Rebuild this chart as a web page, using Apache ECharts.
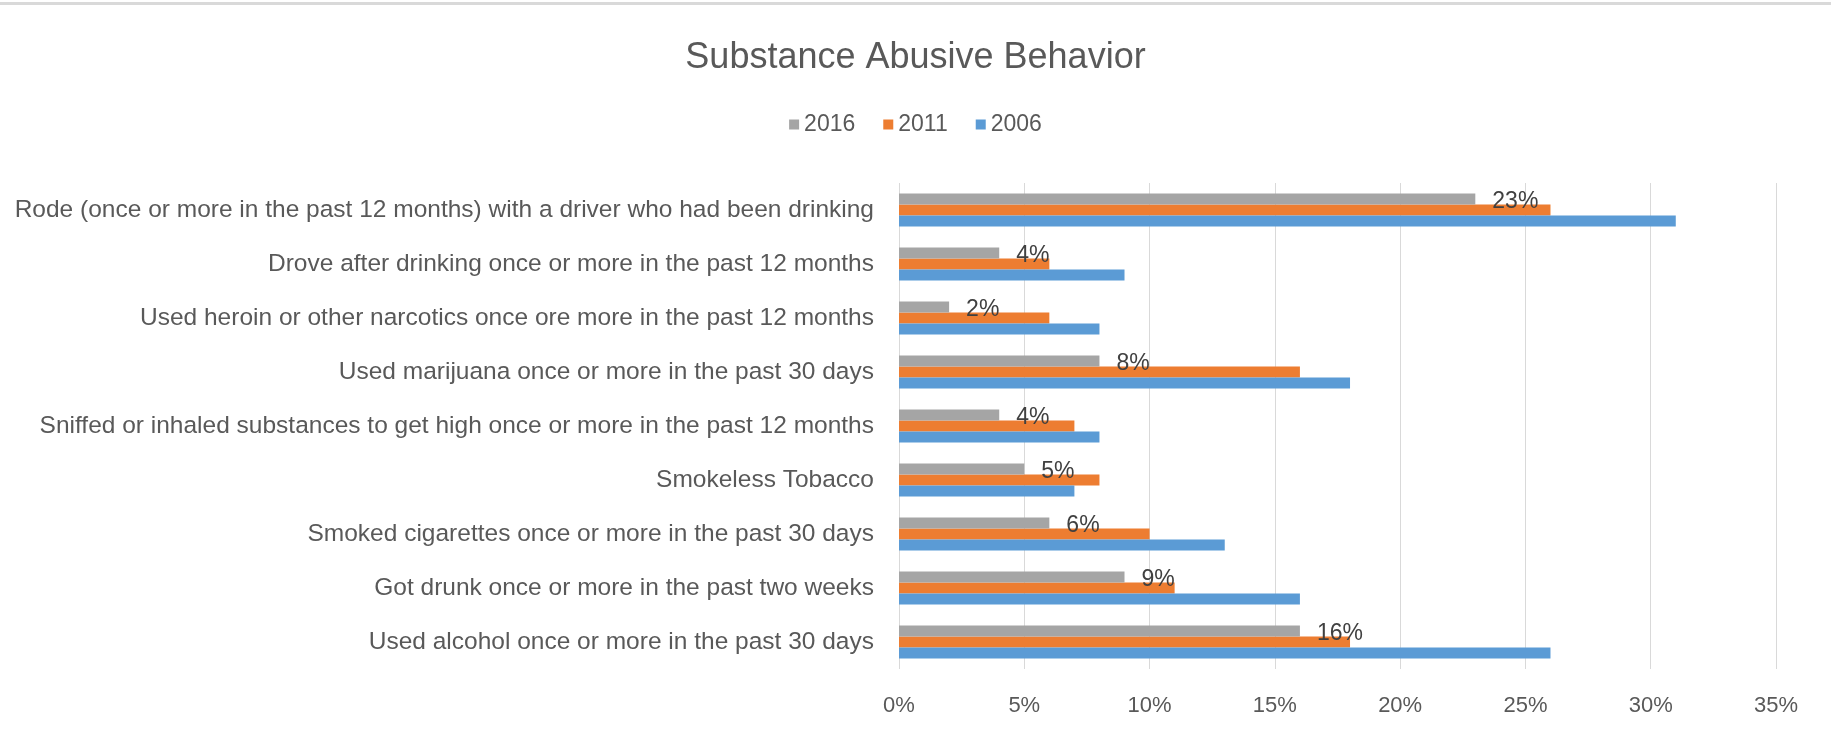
<!DOCTYPE html>
<html><head><meta charset="utf-8">
<script src="https://cdn.jsdelivr.net/npm/echarts@6/dist/echarts.min.js"></script>
<style>html,body{margin:0;padding:0;background:#fff}#c{width:1831px;height:735px}</style>
</head><body><div id="c"></div>
<script>
const categories = [
  "Rode (once or more in the past 12 months) with a driver who had been drinking",
  "Drove after drinking once or more in the past 12 months",
  "Used heroin or other narcotics once ore more in the past 12 months",
  "Used marijuana once or more in the past 30 days",
  "Sniffed or inhaled substances to get high once or more in the past 12 months",
  "Smokeless Tobacco",
  "Smoked cigarettes once or more in the past 30 days",
  "Got drunk once or more in the past two weeks",
  "Used alcohol once or more in the past 30 days"
];
const seriesNames = ["2016", "2011", "2006"];
const values2016 = [23, 4, 2, 8, 4, 5, 6, 9, 16];
const values2011 = [26, 6, 6, 16, 7, 8, 10, 11, 18];
const values2006 = [31, 9, 8, 18, 8, 7, 13, 16, 26];
const xTicks = [0, 5, 10, 15, 20, 25, 30, 35];

const FONT = "'Liberation Sans', Arial, sans-serif";
const chart = echarts.init(document.getElementById('c'));
chart.setOption({
  animation: false,
  textStyle: { fontFamily: FONT },
  title: {
    text: "Substance Abusive Behavior",
    left: 'center', top: 35,
    textStyle: { fontFamily: FONT, fontSize: 36, fontWeight: 'normal', color: '#595959' }
  },
  graphic: [{ type: 'rect', shape: { x: 0, y: 2, width: 1831, height: 3 }, style: { fill: '#d9d9d9' } }],
  legend: {
    data: seriesNames, top: 108, left: 'center',
    itemWidth: 10, itemHeight: 10, itemGap: 28, icon: 'rect',
    textStyle: { fontFamily: FONT, fontSize: 23, color: '#595959' }
  },
  grid: { left: 899, right: 55, top: 183, bottom: 66, containLabel: false },
  xAxis: {
    type: 'value', min: xTicks[0], max: xTicks[xTicks.length - 1], interval: 5,
    axisLine: { show: false }, axisTick: { show: false },
    splitLine: { lineStyle: { color: '#d9d9d9', width: 1 } },
    axisLabel: { formatter: v => v + '%', fontFamily: FONT, fontSize: 22, color: '#595959', margin: 26 }
  },
  yAxis: {
    type: 'category', data: categories, inverse: true,
    axisLine: { show: false }, axisTick: { show: false },
    axisLabel: { fontFamily: FONT, fontSize: 24.5, color: '#595959', margin: 25 }
  },
  series: [
    { name: seriesNames[0], type: 'bar', data: values2016, itemStyle: { color: '#a5a5a5' }, barCategoryGap: '39%', barGap: '0%',
      label: { show: true, position: 'right', distance: 17, offset: [0, 3], formatter: p => p.value + '%', fontFamily: FONT, fontSize: 23, color: '#404040' }, z: 3 },
    { name: seriesNames[1], type: 'bar', data: values2011, itemStyle: { color: '#ed7d31' }, barCategoryGap: '39%', barGap: '0%' },
    { name: seriesNames[2], type: 'bar', data: values2006, itemStyle: { color: '#5b9bd5' }, barCategoryGap: '39%', barGap: '0%' }
  ]
});
</script></body></html>
